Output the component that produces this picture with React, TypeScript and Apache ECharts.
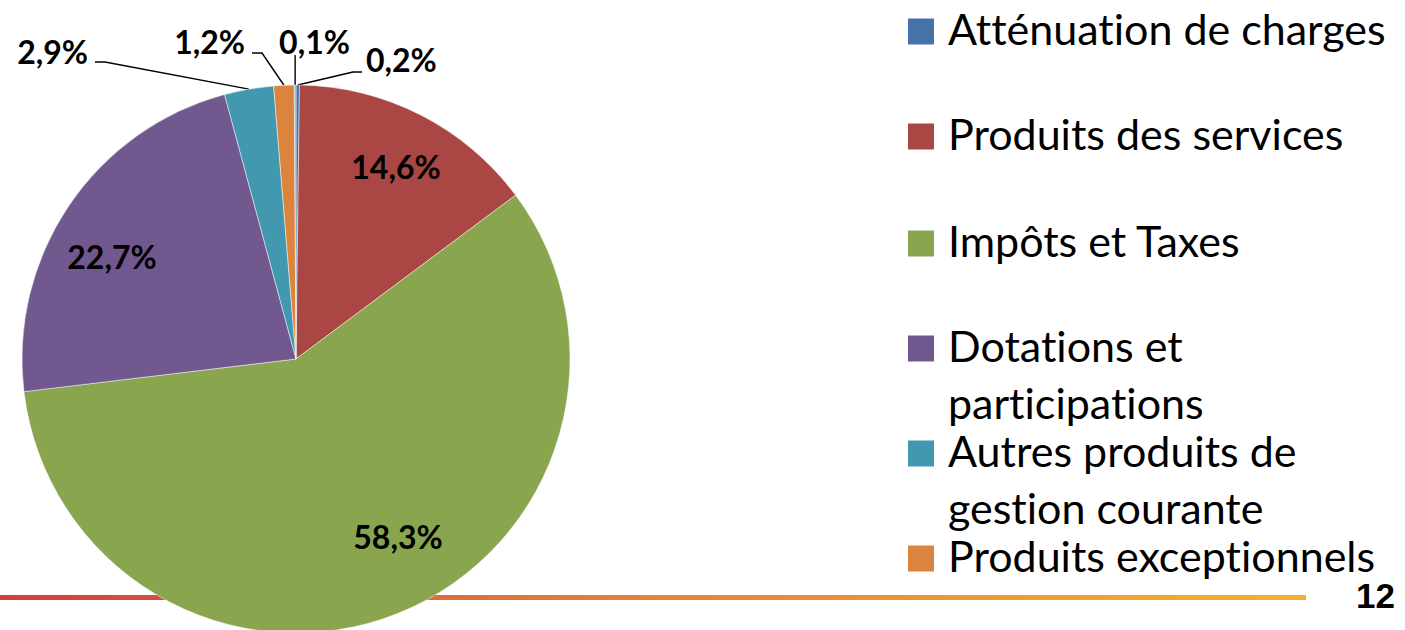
import React, { useEffect, useRef } from 'react';
import * as echarts from 'echarts';

// ---- Data ----
const categories = [
  'Atténuation de charges',
  'Produits des services',
  'Impôts et Taxes',
  'Dotations et participations',
  'Autres produits de gestion courante',
  'Produits exceptionnels',
  'Produits financiers',
];
const shares = [0.2, 14.6, 58.3, 22.7, 2.9, 1.2, 0.1];
const legendLabels = [
  'Atténuation de charges',
  'Produits des services',
  'Impôts et Taxes',
  'Dotations et\nparticipations',
  'Autres produits de\ngestion courante',
  'Produits exceptionnels',
];
const pageNumber = '12';

// ---- Styles / layout ----
const COLORS = ['#4672A8', '#AA4643', '#89A54E', '#71588F', '#4198AF', '#DB843D', '#93A9CF'];
const CX = 296;
const CY = 359;
const R = 274;
const LEGEND_BASELINES = [45, 150, 257, 362, 467, 572];
const LEGEND_FONT = 43;
const LEGEND_LINE = 57;
const LABEL_FONT = 32;

type Place = {
  x: number;
  y: number;
  align: 'left' | 'right' | 'center';
  line?: number[][];
  vertical?: number;
};
const PLACES: Record<number, Place> = {
  0: { x: 70, y: -300, align: 'left', line: [[57, -287], [66, -287]] },
  1: { x: 100, y: -193, align: 'center' },
  2: { x: 102, y: 177, align: 'center' },
  3: { x: -184, y: -103, align: 'center' },
  4: { x: -208, y: -308, align: 'right', line: [[-191, -297], [-201, -297]] },
  5: { x: -51, y: -317.5, align: 'right', line: [[-34, -306], [-44, -306]] },
  6: { x: 18.5, y: -317.5, align: 'center', vertical: -304 },
};

const fmt = (v: number) => `${v.toFixed(1).replace('.', ',')}%`;

export default function App() {
  const ref = useRef<HTMLDivElement>(null);
  useEffect(() => {
    if (!ref.current) return;
    const chart = echarts.init(ref.current, undefined, { renderer: 'svg' });
    const total = shares.reduce((a, b) => a + b, 0);
    const mids: number[] = [];
    let acc = 0;
    shares.forEach((v) => {
      mids.push(acc + v / 2);
      acc += v;
    });
    const edgePoint = (i: number) => {
      const ang = Math.PI / 2 - (mids[i] / total) * Math.PI * 2;
      return [CX + R * Math.cos(ang), CY - R * Math.sin(ang)];
    };

    const legendGraphics: any[] = [];
    legendLabels.forEach((lbl, i) => {
      const b = LEGEND_BASELINES[i];
      legendGraphics.push({
        type: 'rect',
        shape: { x: 908, y: b - 26.5, width: 26, height: 26 },
        style: { fill: COLORS[i] },
        silent: true,
      });
      legendGraphics.push({
        type: 'text',
        x: 948,
        y: b - LEGEND_LINE / 2 - 0.387 * LEGEND_FONT,
        style: {
          text: lbl,
          fill: '#000',
          font: `${LEGEND_FONT}px Lato`,
          lineHeight: LEGEND_LINE,
          align: 'left',
          verticalAlign: 'top',
        },
        silent: true,
      });
    });

    chart.setOption({
      animation: false,
      color: COLORS,
      graphic: [
        {
          type: 'rect',
          z: 0,
          shape: { x: 0, y: 595, width: 1306, height: 5 },
          style: {
            fill: new echarts.graphic.LinearGradient(0, 0, 1, 0, [
              { offset: 0, color: '#D13F3D' },
              { offset: 0.5, color: '#E6823A' },
              { offset: 1, color: '#F4B12C' },
            ]),
          },
          silent: true,
        },
        ...legendGraphics,
        {
          type: 'text',
          right: 10,
          top: 578,
          style: {
            text: pageNumber,
            fill: '#000',
            font: 'bold 35px "Liberation Sans", Arial, sans-serif',
          },
          silent: true,
        },
      ],
      series: [
        {
          type: 'pie',
          z: 2,
          center: [CX, CY],
          radius: R,
          startAngle: 90,
          clockwise: true,
          avoidLabelOverlap: false,
          itemStyle: { borderColor: 'rgba(255,255,255,0.6)', borderWidth: 0.8 },
          label: {
            show: true,
            position: 'outside',
            formatter: (p: any) => fmt(p.value),
            color: '#000',
            fontFamily: 'Lato',
            fontWeight: 'bold',
            fontSize: LABEL_FONT,
          },
          labelLine: {
            show: true,
            lineStyle: { color: '#000', width: 1.4 },
          },
          labelLayout: (params: any) => {
            const i = params.dataIndex;
            const pl = PLACES[i];
            if (!pl) return {};
            const out: any = {
              x: CX + pl.x,
              y: CY + pl.y,
              align: pl.align,
              verticalAlign: 'middle',
            };
            const s = edgePoint(i);
            if (pl.line) {
              out.labelLinePoints = [s, ...pl.line.map((p) => [CX + p[0], CY + p[1]])];
            } else if (pl.vertical != null) {
              out.labelLinePoints = [s, [s[0], (s[1] + CY + pl.vertical) / 2], [s[0], CY + pl.vertical]];
            }
            return out;
          },
          data: categories.map((name, i) => {
            const inside = !!PLACES[i] && !PLACES[i].line && PLACES[i].vertical == null;
            return {
              name,
              value: shares[i],
              labelLine: { show: !inside },
            };
          }),
        },
      ],
    });
    return () => chart.dispose();
  }, []);
  return (
    <>
      <style>{`svg text, svg tspan { font-variant-ligatures: none !important; font-feature-settings: "liga" 0, "clig" 0 !important; }`}</style>
      <div
        ref={ref}
        style={{ position: 'fixed', left: 0, top: 0, width: 1405, height: 630, background: '#fff' }}
      />
    </>
  );
}
